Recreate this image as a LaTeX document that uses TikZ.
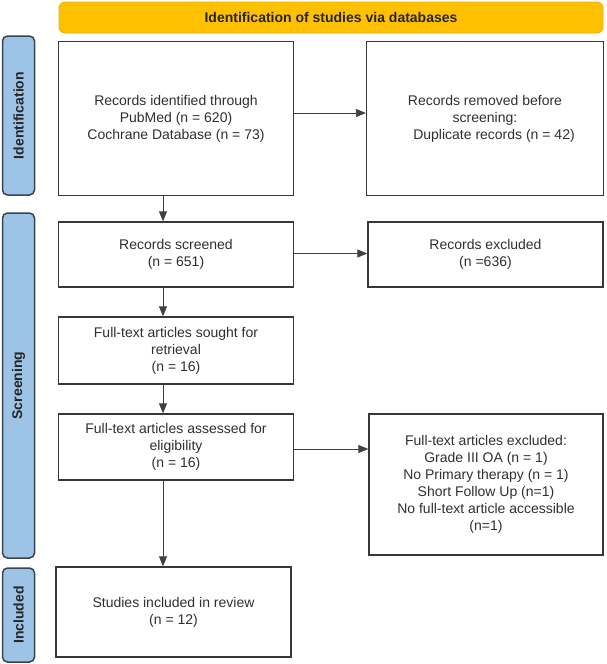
\documentclass[tikz,border=0pt]{standalone}
\usepackage{fontspec}
\setmainfont{Liberation Sans}
\usetikzlibrary{arrows.meta}
\definecolor{hdr}{HTML}{FFC000}
\definecolor{hdrline}{HTML}{EDB200}
\definecolor{labfill}{HTML}{9DC3E6}
\definecolor{labline}{HTML}{3A4450}
\definecolor{txt}{HTML}{303030}
\tikzset{
  box/.style={draw=black!78, line width=1.3pt, fill=white, align=center, inner sep=2pt,
    text=txt, font=\fontsize{14}{17}\selectfont},
  lab/.style={draw=labline, line width=1.5pt, fill=labfill, rounded corners=5pt, rotate=90,
    text=black!85, font=\fontsize{14}{17}\selectfont\bfseries, inner sep=0pt},
  hdrbox/.style={draw=hdrline, line width=0.8pt, fill=hdr, rounded corners=6pt,
    text=black!85, font=\fontsize{14}{17}\selectfont\bfseries, inner sep=0pt},
  arr/.style={draw=black!75, line width=0.8pt, -{Triangle[length=10pt,width=8pt]}}
}
\begin{document}
\begin{tikzpicture}[x=1pt,y=-1pt]
\useasboundingbox (0,0) rectangle (606,664);
% header
\node[hdrbox, minimum width=544pt, minimum height=31pt] (hdr) at (331,17.5) {Identification of studies via databases};
% side labels
\node[lab, minimum width=159pt, minimum height=32pt] (lid) at (18.5,115.5) {Identification};
\node[lab, minimum width=345pt, minimum height=32pt] (lsc) at (18.5,385.5) {Screening};
\node[lab, minimum width=94pt, minimum height=32pt] (lin) at (18.5,615) {Included};
% boxes
\node[box, minimum width=235pt, minimum height=154pt] (b1) at (176,118.5) {Records identified through\\PubMed (n = 620)\\Cochrane Database (n = 73)};
\node[box, minimum width=237pt, minimum height=154pt] (b2) at (485,118.5) {Records removed before\\screening:\\\hspace*{18pt}Duplicate records (n = 42)};
\node[box, minimum width=235pt, minimum height=65pt] (b3) at (176,254.5) {Records screened\\(n = 651)};
\node[box, minimum width=235pt, minimum height=65pt] (b4) at (485.5,254.5) {Records excluded\\(n =636)};
\node[box, minimum width=235pt, minimum height=67pt] (b5) at (176,350.5) {Full-text articles sought for\\retrieval\\(n = 16)};
\node[box, minimum width=235pt, minimum height=66pt] (b6) at (176,447) {Full-text articles assessed for\\eligibility\\(n = 16)};
\node[box, minimum width=234pt, minimum height=141pt] (b7) at (486,484.5) {Full-text articles excluded:\\Grade III OA (n = 1)\\No Primary therapy (n = 1)\\Short Follow Up (n=1)\\No full-text article accessible\\(n=1)};
\node[box, minimum width=235pt, minimum height=90pt] (b8) at (173.5,612) {Studies included in review\\(n = 12)};
% arrows
\draw[arr] ([yshift=5.5pt]b1.east) -- ([yshift=5.5pt]b2.west);
\draw[arr] ([yshift=1pt]b3.east) -- ([yshift=1pt]b4.west);
\draw[arr] ([yshift=-2pt]b6.east) -- ([yshift=-2pt]b6.east -| b7.west);
\draw[arr] ([xshift=-13pt]b1.south) -- ([xshift=-13pt]b3.north);
\draw[arr] ([xshift=-13pt]b3.south) -- ([xshift=-13pt]b5.north);
\draw[arr] ([xshift=-13pt]b5.south) -- ([xshift=-13pt]b6.north);
\draw[arr] ([xshift=-13pt]b6.south) -- ([xshift=-13pt]b6.south |- b8.north);
\end{tikzpicture}
\end{document}
